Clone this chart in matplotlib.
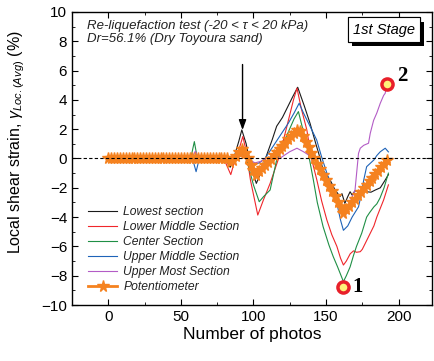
#!/usr/bin/env python3
"""Local shear strain vs number of photos (1st stage re-liquefaction test)."""

import numpy as np
import matplotlib
matplotlib.use("Agg")
import matplotlib.pyplot as plt
import matplotlib.patheffects as pe
from matplotlib.ticker import MultipleLocator

plt.rcParams["font.family"] = ["Liberation Sans", "DejaVu Sans"]
plt.rcParams["mathtext.fontset"] = "custom"
plt.rcParams["mathtext.rm"] = "Liberation Sans"
plt.rcParams["mathtext.it"] = "Liberation Sans:italic"

# ---- data ----
lowest_x = [0, 20, 40, 55, 60, 70, 80, 84, 87, 90, 92, 95, 98, 102, 105, 109, 113, 116,
            120, 124, 127, 130.5, 135, 139, 143, 146, 148, 151, 153, 156, 159.6, 161, 163,
            165, 166.6, 168, 170, 173, 176, 178, 181, 184, 187.4, 190.8, 193]
lowest_y = [0, 0.05, 0, 0.05, 0.1, 0, 0, -0.6, 0.2, 1.2, 1.95, 1.0, -0.5, -1.7, -1.0, 0.2, 1.3, 2.2,
            2.8, 3.6, 4.2, 4.86, 3.6, 2.4, 1.0, 0.0, -0.8, -1.2, -1.5, -2.1, -2.6, -2.4, -3.06,
            -2.6, -2.27, -2.5, -2.2, -2.3, -2.1, -2.27, -2.3, -2.15, -2.0, -1.47, -1.1]

lowmid_x = [0, 40, 58, 62, 75, 80, 84.4, 87, 90, 92.7, 95, 98, 103, 107, 111.5, 117, 120, 123,
            127.6, 130, 133, 136.8, 140, 143.7, 147, 150.6, 154, 157.5, 160, 162, 164, 166.7,
            169, 171, 173.6, 175, 177, 180.5, 183, 185, 187, 189.7, 193]
lowmid_y = [0, 0, 0, -0.1, 0, -0.1, -1.1, -0.2, 0.6, 1.5, 0.5, -1.5, -3.86, -2.8, -1.7, -0.1, 1.0, 2.17,
            4.0, 4.8, 3.4, 1.95, 0.0, -1.47, -2.9, -4.2, -5.2, -6.0, -6.8, -7.27, -7.0, -6.5,
            -6.3, -6.4, -6.36, -6.2, -5.8, -5.1, -4.6, -4.0, -3.5, -2.83, -1.8]

center_x = [0, 50, 57, 59.3, 61, 65, 80, 86, 90, 93, 96, 100, 104, 107, 111.5, 116, 120, 124,
            128, 131, 134, 137, 141.3, 144, 148, 152, 155, 158, 160, 162, 164, 166.6, 169, 171,
            174.6, 178, 180, 183, 185, 187.2, 190, 193]
center_y = [0, 0, 0.1, 1.15, 0.2, 0, 0, 0, 0.3, 0.6, -0.3, -1.8, -2.95, -2.6, -2.15, -0.1, 0.9, 1.8,
            2.7, 3.2, 2.0, 0.8, -1.47, -3.0, -4.65, -5.9, -6.7, -7.4, -7.9, -8.4, -8.0, -7.4, -6.6, -6.0,
            -5.1, -4.0, -3.7, -3.3, -3.1, -2.7, -2.0, -1.0]

upmid_x = [0, 50, 58, 60.5, 62, 66, 80, 88, 92, 96, 101, 104, 108, 112, 116, 120, 124, 128,
           131.5, 134.5, 139, 143.6, 147, 150.6, 154, 157.5, 160, 162, 165, 168, 172.4, 174,
           176, 178, 180.5, 183, 185, 187.4, 190.8, 193]
upmid_y = [0, 0, 0, -0.9, -0.3, 0, 0, 0, 0.3, 0, -0.4, -0.3, 0.0, 0.6, 1.2, 1.8, 2.4, 3.1,
           3.77, 3.1, 2.2, 1.26, 0.1, -1.0, -2.0, -3.06, -4.2, -4.9, -4.6, -4.0, -3.3, -2.6,
           -1.47, -0.56, -0.33, -0.1, 0.2, 0.46, 0.7, 0.45]

upmost_x = [0, 50, 58, 60, 62, 66, 80, 88, 92, 96, 101, 105, 111, 118, 125, 130, 134.5, 138,
            146, 155, 161, 163, 166, 170, 172.4, 173.6, 176, 179.3, 180.5, 182.8, 185, 187.4,
            189.7, 190.8, 191.5]
upmost_y = [0, 0, 0.1, 0.5, 0.1, 0, 0, 0, 0.2, 0, -0.3, -0.2, 0.1, 0.0, 0.46, 0.7, 0.46, 0.24,
            -0.8, -2.4, -3.6, -4.0, -3.1, -2.15, 0.35, 0.7, 0.9, 1.04, 1.72, 2.6, 3.1, 3.77,
            4.3, 4.45, 4.9]

pot_x = np.arange(0, 193, 2)
pot_y = [0.0] * 41 + [
    0.0, -0.25, -0.1, 0.15, 0.45, 0.65, 0.4, 0.0, -0.45, -0.8,
    -1.1, -0.88, -0.66, -0.45, -0.23, -0.01, 0.21, 0.43, 0.64, 0.86,
    1.08, 1.30, 1.52, 1.73, 1.95, 1.87, 1.50, 1.13, 0.76, 0.38,
    0.01, -0.36, -0.73, -1.10, -1.48, -1.85, -2.22, -2.59, -2.96, -3.33,
    -3.7, -3.46, -3.22, -2.99, -2.75, -2.51, -2.27, -2.03, -1.79, -1.55,
    -1.31, -1.07, -0.84, -0.6, -0.36, -0.12]

point_labels = ["1", "2"]
point_x = [162, 191.8]
point_y = [-8.8, 5.05]

series = [
    ("Lowest section", lowest_x, lowest_y, "#1a1a1a"),
    ("Lower Middle Section", lowmid_x, lowmid_y, "#f0262b"),
    ("Center Section", center_x, center_y, "#1f8f45"),
    ("Upper Middle Section", upmid_x, upmid_y, "#1e63b8"),
    ("Upper Most Section", upmost_x, upmost_y, "#b35cc6"),
]


def main():
    fig = plt.figure(figsize=(4.35, 3.61), dpi=100)
    ax = fig.add_axes([0.1655, 0.155, 0.8275, 0.812])

    ax.axhline(0, color="black", lw=0.8, ls=(0, (3, 2)), zorder=4)

    for label, xs, ys, color in series:
        ax.plot(xs, ys, color=color, lw=0.8, label=label, zorder=2)

    ax.plot(pot_x, pot_y, color="#f5821f", lw=2.0, marker="*", ms=8.5,
            mec="#f5821f", mfc="#f5821f", label="Potentiometer", zorder=3)

    ax.plot(point_x, point_y, ls="none", marker="o", ms=8, mfc="#fff27a",
            mec="#e8202a", mew=2.5, zorder=5)
    ax.text(point_x[0] + 6.5, point_y[0], point_labels[0], fontsize=15, fontweight="bold",
            family="Liberation Serif", va="center", ha="left")
    ax.text(point_x[1] + 7.5, point_y[1] + 0.6, point_labels[1], fontsize=15, fontweight="bold",
            family="Liberation Serif", va="center", ha="left")

    ax.annotate("", xy=(92.5, 1.75), xytext=(92.5, 6.6),
                arrowprops=dict(arrowstyle="-|>,head_length=0.6,head_width=0.22",
                                color="black", lw=1.0), zorder=6)

    ax.text(-14.5, 9.45, "Re-liquefaction test (-20 < \u03c4 < 20 kPa)\nDr=56.1% (Dry Toyoura sand)",
            fontsize=9.5, style="italic", va="top", ha="left", linespacing=1.15, color="#222222")

    stage = ax.text(0.953, 0.94, "1st Stage", transform=ax.transAxes, fontsize=10.5,
                    style="italic", ha="right", va="center", zorder=7,
                    bbox=dict(boxstyle="square,pad=0.35", fc="white", ec="black", lw=0.8))
    stage.get_bbox_patch().set_path_effects(
        [pe.withSimplePatchShadow(offset=(3, -3), shadow_rgbFace="black", alpha=1.0),
         pe.Normal()])

    ax.set_xlim(-25, 223)
    ax.set_ylim(-10, 10)
    ax.xaxis.set_major_locator(MultipleLocator(50))
    ax.xaxis.set_minor_locator(MultipleLocator(25))
    ax.yaxis.set_major_locator(MultipleLocator(2))
    ax.yaxis.set_minor_locator(MultipleLocator(1))
    ax.tick_params(which="both", direction="in", top=True, right=True, labelsize=11)
    ax.tick_params(which="major", length=4)
    ax.tick_params(which="minor", length=2)
    for s in ax.spines.values():
        s.set_linewidth(1.0)

    ax.set_xlabel("Number of photos", fontsize=12.5, labelpad=2)
    ax.set_ylabel(r"Local shear strain, $\gamma_{Loc.(Avg)}$ (%)", fontsize=11.5)
    ax.yaxis.set_label_coords(-0.125, 0.555)

    leg = ax.legend(loc="lower left", bbox_to_anchor=(0.025, 0.015), frameon=False,
                    prop={"size": 8.7, "style": "italic"}, handlelength=2.4,
                    handletextpad=0.5, labelspacing=0.25, borderaxespad=0.2)
    for t in leg.get_texts():
        t.set_color("#222222")

    fig.savefig("out.png", dpi=100)


if __name__ == "__main__":
    main()
